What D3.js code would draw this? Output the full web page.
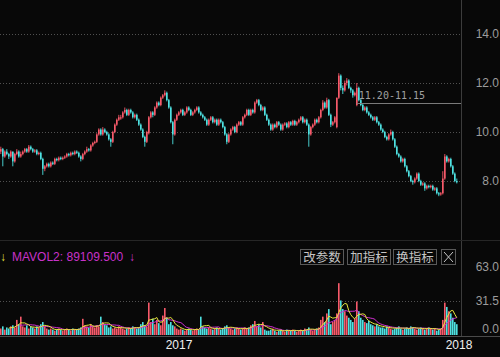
<!DOCTYPE html>
<html>
<head>
<meta charset="utf-8">
<script src="https://cdn.jsdelivr.net/npm/d3@7"></script>
<style>
    html, body { margin: 0; padding: 0; background: #080808; }
    svg { display: block; }
    .grid line { stroke: #505050; stroke-dasharray: 1,2; }
    .axis text { font-family: 'Liberation Sans', Arial, sans-serif; font-size: 12px; }
</style>
</head>
<body>
<div id="chart"></div>
<script>
/* global d3 */
// daily candles: [open, high, low, close]
const candles = [
    [9.20, 9.40, 9.10, 9.30], [9.30, 9.35, 8.60, 9.00], [9.00, 9.25, 8.95, 9.20], [9.20, 9.30, 9.05, 9.10], [9.10, 9.15, 8.90, 9.00],
    [9.00, 9.25, 8.95, 9.20], [9.20, 9.20, 8.60, 8.80], [8.80, 9.15, 8.75, 9.10], [9.10, 9.30, 9.05, 9.20], [9.20, 9.25, 8.95, 9.00],
    [9.00, 9.20, 8.95, 9.10], [9.10, 9.25, 9.05, 9.20], [9.20, 9.35, 9.15, 9.30], [9.30, 9.35, 9.15, 9.20], [9.20, 9.47, 9.15, 9.40],
    [9.40, 9.45, 9.25, 9.30], [9.30, 9.35, 9.15, 9.20], [9.20, 9.30, 9.15, 9.25], [9.25, 9.30, 9.05, 9.10], [9.10, 9.20, 9.05, 9.15],
    [9.15, 9.20, 8.85, 8.90], [8.90, 8.95, 8.25, 8.50], [8.50, 8.65, 8.40, 8.60], [8.60, 8.75, 8.55, 8.70], [8.70, 8.75, 8.55, 8.60],
    [8.60, 8.80, 8.55, 8.75], [8.75, 8.80, 8.65, 8.70], [8.70, 8.95, 8.65, 8.90], [8.90, 8.95, 8.80, 8.85], [8.85, 9.00, 8.80, 8.95],
    [8.95, 9.00, 8.85, 8.90], [8.90, 9.00, 8.85, 8.95], [8.95, 9.05, 8.90, 9.00], [9.00, 9.15, 8.95, 9.10], [9.10, 9.15, 9.00, 9.05],
    [9.05, 9.20, 9.00, 9.15], [9.15, 9.20, 9.05, 9.10], [9.10, 9.25, 9.05, 9.20], [9.20, 9.25, 9.10, 9.15], [9.15, 9.20, 8.95, 9.00],
    [9.00, 9.05, 8.80, 8.90], [8.90, 9.15, 8.85, 9.10], [9.10, 9.25, 9.05, 9.20], [9.20, 9.40, 9.15, 9.30], [9.30, 9.35, 9.20, 9.25],
    [9.25, 9.50, 9.20, 9.45], [9.45, 9.60, 9.40, 9.55], [9.55, 9.65, 9.50, 9.60], [9.60, 9.95, 9.55, 9.90], [9.90, 10.15, 9.85, 10.10],
    [10.10, 10.15, 9.85, 9.90], [9.90, 10.20, 9.85, 10.10], [10.10, 10.15, 9.95, 10.00], [10.00, 10.05, 9.85, 9.90], [9.90, 9.95, 9.65, 9.70],
    [9.70, 9.75, 9.40, 9.60], [9.60, 10.05, 9.55, 10.00], [10.00, 10.35, 9.95, 10.30], [10.30, 10.55, 10.25, 10.50], [10.50, 10.70, 10.45, 10.60],
    [10.55, 10.70, 10.50, 10.60], [10.60, 10.85, 10.55, 10.80], [10.80, 11.00, 10.75, 10.90], [10.90, 10.95, 10.65, 10.70], [10.70, 10.95, 10.65, 10.90],
    [10.90, 10.95, 10.75, 10.80], [10.80, 10.85, 10.55, 10.60], [10.60, 10.75, 10.55, 10.70], [10.70, 10.75, 10.45, 10.50], [10.50, 10.55, 10.25, 10.30],
    [10.30, 10.35, 10.05, 10.10], [10.10, 10.15, 9.75, 9.80], [9.80, 9.85, 9.40, 9.60], [9.60, 10.05, 9.55, 10.00], [9.95, 10.65, 9.90, 10.60],
    [10.60, 10.85, 10.55, 10.80], [10.80, 10.85, 10.60, 10.70], [10.70, 11.05, 10.65, 11.00], [11.00, 11.25, 10.95, 11.20], [11.20, 11.25, 11.05, 11.10],
    [11.10, 11.45, 11.05, 11.40], [11.40, 11.55, 11.35, 11.50], [11.50, 11.70, 11.45, 11.60], [11.60, 11.65, 11.25, 11.30], [11.30, 11.35, 10.95, 11.00],
    [11.00, 11.05, 10.35, 10.40], [10.40, 10.45, 9.50, 9.90], [9.90, 10.55, 9.85, 10.50], [10.50, 10.75, 10.45, 10.70], [10.70, 10.85, 10.65, 10.80],
    [10.80, 10.95, 10.75, 10.90], [10.90, 10.95, 10.65, 10.70], [10.70, 10.85, 10.65, 10.80], [10.80, 11.05, 10.75, 11.00], [11.00, 11.05, 10.85, 10.90],
    [10.90, 10.95, 10.65, 10.70], [10.70, 10.85, 10.65, 10.80], [10.80, 10.95, 10.75, 10.90], [10.90, 11.05, 10.85, 11.00], [11.00, 11.05, 10.75, 10.80],
    [10.80, 10.85, 10.65, 10.70], [10.70, 10.75, 10.55, 10.60], [10.60, 10.65, 10.45, 10.50], [10.50, 10.55, 10.25, 10.30], [10.30, 10.55, 10.25, 10.50],
    [10.50, 10.65, 10.45, 10.60], [10.60, 10.65, 10.35, 10.40], [10.40, 10.55, 10.35, 10.50], [10.50, 10.55, 10.25, 10.30], [10.30, 10.55, 10.25, 10.50],
    [10.50, 10.55, 10.35, 10.40], [10.40, 10.45, 10.15, 10.20], [10.20, 10.25, 9.85, 9.90], [9.90, 9.95, 9.50, 9.60], [9.60, 9.95, 9.55, 9.90],
    [9.90, 10.15, 9.85, 10.10], [10.10, 10.25, 10.05, 10.20], [10.20, 10.25, 9.95, 10.00], [10.00, 10.35, 9.95, 10.30], [10.30, 10.45, 10.25, 10.40],
    [10.40, 10.45, 10.25, 10.30], [10.30, 10.65, 10.25, 10.60], [10.60, 10.75, 10.55, 10.70], [10.70, 10.95, 10.65, 10.90], [10.90, 10.95, 10.65, 10.70],
    [10.70, 10.95, 10.65, 10.90], [10.90, 10.95, 10.75, 10.80], [10.80, 11.25, 10.75, 11.20], [11.20, 11.35, 11.15, 11.30], [11.30, 11.35, 11.05, 11.10],
    [11.10, 11.15, 10.85, 10.90], [10.90, 11.05, 10.85, 11.00], [11.00, 11.05, 10.65, 10.70], [10.70, 10.75, 10.45, 10.50], [10.50, 10.55, 10.25, 10.30],
    [10.30, 10.35, 10.05, 10.10], [10.10, 10.35, 10.05, 10.30], [10.30, 10.35, 10.15, 10.20], [10.20, 10.45, 10.15, 10.40], [10.40, 10.45, 10.25, 10.30],
    [10.30, 10.35, 10.05, 10.10], [10.10, 10.35, 10.05, 10.30], [10.30, 10.40, 10.25, 10.35], [10.35, 10.40, 10.15, 10.20], [10.20, 10.45, 10.15, 10.40],
    [10.40, 10.45, 10.25, 10.30], [10.30, 10.50, 10.25, 10.45], [10.45, 10.50, 10.25, 10.30], [10.30, 10.45, 10.25, 10.40], [10.40, 10.55, 10.35, 10.50],
    [10.50, 10.65, 10.45, 10.60], [10.60, 10.65, 10.35, 10.40], [10.40, 10.55, 10.35, 10.50], [10.50, 10.55, 10.25, 10.30], [10.30, 10.35, 9.40, 9.90],
    [9.90, 10.25, 9.85, 10.20], [10.20, 10.35, 10.15, 10.30], [10.30, 10.55, 10.25, 10.50], [10.50, 10.55, 10.35, 10.40], [10.40, 10.65, 10.35, 10.60],
    [10.60, 10.95, 10.55, 10.90], [10.90, 11.30, 10.85, 11.20], [11.20, 11.25, 10.95, 11.00], [11.00, 11.40, 10.95, 11.30], [11.30, 11.35, 10.65, 10.70],
    [10.70, 10.75, 10.20, 10.30], [10.30, 10.45, 10.25, 10.40], [10.40, 10.65, 10.35, 10.60], [10.20, 11.40, 10.15, 11.40], [11.40, 12.40, 11.35, 12.30],
    [12.30, 12.35, 11.70, 11.80], [11.80, 11.90, 11.55, 11.70], [11.70, 12.10, 11.65, 12.00], [12.00, 12.20, 11.90, 12.10], [12.10, 12.15, 11.75, 11.80],
    [11.80, 11.85, 11.60, 11.70], [11.70, 11.75, 11.40, 11.50], [11.50, 11.65, 11.45, 11.60], [11.10, 12.00, 11.05, 11.80], [11.80, 11.85, 11.25, 11.30],
    [11.30, 11.35, 11.05, 11.10], [11.10, 11.15, 10.85, 10.90], [10.90, 11.05, 10.85, 11.00], [11.00, 11.05, 10.75, 10.80], [10.80, 10.85, 10.65, 10.70],
    [10.70, 10.75, 10.55, 10.60], [10.60, 10.65, 10.45, 10.50], [10.50, 10.65, 10.45, 10.60], [10.60, 10.65, 10.35, 10.40], [10.40, 10.45, 10.25, 10.30],
    [10.30, 10.35, 10.05, 10.10], [10.10, 10.15, 9.95, 10.00], [10.00, 10.05, 9.75, 9.80], [9.80, 9.85, 9.65, 9.70], [9.70, 9.95, 9.65, 9.90],
    [9.90, 10.10, 9.85, 10.00], [10.00, 10.05, 9.65, 9.70], [9.70, 9.75, 9.35, 9.40], [9.40, 9.45, 9.05, 9.10], [9.10, 9.15, 8.95, 9.00],
    [9.00, 9.05, 8.75, 8.80], [8.80, 8.95, 8.75, 8.90], [8.90, 8.95, 8.55, 8.60], [8.60, 8.65, 8.35, 8.40], [8.40, 8.45, 8.15, 8.20],
    [8.20, 8.25, 7.95, 8.00], [8.00, 8.05, 7.85, 7.95], [7.95, 8.15, 7.90, 8.10], [8.10, 8.35, 8.05, 8.30], [8.30, 8.35, 7.95, 8.00],
    [8.00, 8.05, 7.80, 7.85], [7.85, 7.95, 7.80, 7.90], [7.90, 7.95, 7.60, 7.70], [7.70, 7.85, 7.65, 7.80], [7.80, 7.85, 7.70, 7.75],
    [7.75, 7.85, 7.70, 7.80], [7.80, 7.85, 7.60, 7.65], [7.65, 7.75, 7.60, 7.70], [7.70, 7.75, 7.45, 7.50], [7.50, 7.55, 7.38, 7.45],
    [7.45, 7.55, 7.40, 7.50], [7.50, 8.40, 7.45, 8.10], [8.10, 9.10, 8.05, 9.00], [9.00, 9.05, 8.75, 8.80], [8.80, 8.95, 8.75, 8.90],
    [8.90, 8.95, 8.55, 8.60], [8.60, 8.65, 8.25, 8.30], [8.30, 8.35, 7.95, 8.00], [8.00, 8.10, 7.90, 7.95]
];

const volumes = [
    6, 8, 5, 7, 6, 8, 9, 7, 14, 10, 17, 8, 7, 9, 6, 8, 7, 6, 8, 7,
    10, 12, 8, 6, 5, 6, 5, 4, 5, 6, 5, 4, 5, 6, 5, 4, 6, 5, 5, 6,
    7, 15, 9, 8, 7, 10, 8, 7, 9, 8, 17, 12, 10, 9, 7, 8, 6, 7, 6, 8,
    7, 6, 5, 6, 7, 6, 8, 7, 6, 7, 10, 12, 9, 8, 30, 12, 15, 10, 14, 11,
    9, 18, 25, 16, 10, 12, 9, 8, 6, 5, 6, 5, 4, 5, 6, 5, 4, 5, 6, 5,
    17, 8, 7, 6, 7, 6, 5, 6, 7, 6, 5, 6, 8, 9, 7, 6, 5, 6, 7, 6,
    5, 6, 7, 6, 7, 9, 10, 13, 8, 10, 7, 12, 5, 4, 4, 5, 6, 4, 3, 4,
    5, 4, 3, 5, 4, 4, 5, 4, 3, 4, 5, 4, 6, 5, 7, 5, 4, 5, 6, 7,
    14, 17, 12, 20, 24, 10, 12, 14, 20, 48, 32, 24, 22, 18, 16, 14, 12, 15, 31, 22,
    16, 14, 12, 11, 13, 10, 9, 8, 10, 8, 7, 7, 6, 8, 7, 6, 5, 6, 7, 8,
    6, 5, 6, 7, 6, 8, 7, 6, 5, 6, 7, 6, 5, 6, 7, 6, 5, 6, 4, 5,
    6, 14, 30, 26, 22, 20, 16, 12, 10
];

const slotCount = 230;
const priceTicks = [8, 10, 12, 14];
const volTicks = [0, 31.5, 63];
const yearTicks = [89, 229];
const yearLabels = ['2017', '2018'];
const buttonLabels = ['改参数', '加指标', '换指标'];
const markIndex = 178;
const markPrice = 11.2;
const markText = '11.20-11.15';
const legendText = 'MAVOL2: 89109.500';

const W = 500, H = 357;
const plotRight = 461;
const upColor = '#f75a6a', downColor = '#4fe2e2';

const svg = d3.select('#chart').append('svg')
    .attr('width', W)
    .attr('height', H)
    .style('background', '#080808');

const x = d3.scaleBand().domain(d3.range(slotCount)).range([0, 2 * slotCount]);
const yPrice = d3.scaleLinear().domain([8, 14]).range([181, 34]);
const yVol = d3.scaleLinear().domain([0, 63]).range([335, 267]);

const barW = 1.6;
const cx = i => x(i) + barW / 2;
const isUp = d => d[3] >= d[0];

// frame lines
svg.append('line').attr('x1', plotRight + 0.5).attr('x2', plotRight + 0.5)
    .attr('y1', 0).attr('y2', 336).attr('stroke', '#3c3c3c');
svg.append('line').attr('x1', 0).attr('x2', W)
    .attr('y1', 240.5).attr('y2', 240.5).attr('stroke', '#262626');
svg.append('line').attr('x1', 0).attr('x2', W)
    .attr('y1', 336.5).attr('y2', 336.5).attr('stroke', '#4a4a4a');

// grid lines
svg.append('g').attr('class', 'grid')
    .call(d3.axisRight(yPrice).tickValues(priceTicks).tickSize(plotRight).tickFormat(''))
    .call(g => g.select('.domain').remove());
svg.append('g').attr('class', 'grid')
    .call(d3.axisRight(yVol).tickValues([31.5]).tickSize(plotRight).tickFormat(''))
    .call(g => g.select('.domain').remove());

// candles
const cgrp = svg.append('g').attr('class', 'candles');
cgrp.selectAll('line')
    .data(candles)
    .join('line')
    .attr('x1', (d, i) => cx(i)).attr('x2', (d, i) => cx(i))
    .attr('y1', d => yPrice(d[1])).attr('y2', d => yPrice(d[2]))
    .attr('stroke', d => isUp(d) ? upColor : downColor)
    .attr('stroke-width', 0.9);
cgrp.selectAll('rect')
    .data(candles)
    .join('rect')
    .attr('x', (d, i) => x(i))
    .attr('width', barW)
    .attr('y', d => yPrice(Math.max(d[0], d[3])))
    .attr('height', d => Math.max(1, Math.abs(yPrice(d[0]) - yPrice(d[3]))))
    .attr('fill', d => isUp(d) ? upColor : downColor);

// price marker
svg.append('line')
    .attr('x1', cx(markIndex)).attr('x2', plotRight)
    .attr('y1', Math.round(yPrice(markPrice)) + 0.5).attr('y2', Math.round(yPrice(markPrice)) + 0.5)
    .attr('stroke', '#7a7a7a');
svg.append('text')
    .attr('x', cx(markIndex) + 2)
    .attr('y', yPrice(markPrice) - 3.5)
    .style('font-family', "'DejaVu Sans Mono', monospace")
    .style('font-size', '10px')
    .style('fill', '#a0a0a0')
    .text(markText);

// volume bars
svg.append('g').selectAll('rect')
    .data(volumes)
    .join('rect')
    .attr('x', (d, i) => x(i))
    .attr('width', barW)
    .attr('y', d => yVol(d))
    .attr('height', d => yVol(0) - yVol(d))
    .attr('fill', (d, i) => isUp(candles[i]) ? upColor : downColor);

// volume averages
const movingAvg = n => volumes.map((v, i) => i < n - 1 ? null : d3.mean(volumes.slice(i - n + 1, i + 1)));
const maLine = d3.line()
    .defined(d => d !== null)
    .x((d, i) => cx(i))
    .y(d => yVol(d));
svg.append('path').datum(movingAvg(10))
    .attr('d', maLine).attr('fill', 'none').attr('stroke', '#d030d0').attr('stroke-width', 1);
svg.append('path').datum(movingAvg(5))
    .attr('d', maLine).attr('fill', 'none').attr('stroke', '#e8e83c').attr('stroke-width', 1);

// right axes
svg.append('g').attr('class', 'axis')
    .attr('transform', 'translate(499,0)')
    .call(d3.axisLeft(yPrice).tickValues(priceTicks).tickFormat(d3.format('.1f')).tickSize(0).tickPadding(0))
    .call(g => g.select('.domain').remove())
    .call(g => g.selectAll('text').style('fill', '#9c9c9c'));
svg.append('g').attr('class', 'axis')
    .attr('transform', 'translate(499,0)')
    .call(d3.axisLeft(yVol).tickValues(volTicks).tickFormat(d3.format('.1f')).tickSize(0).tickPadding(0))
    .call(g => g.select('.domain').remove())
    .call(g => g.selectAll('text').style('fill', '#9c9c9c').attr('dy', d => d === 0 ? '-0.25em' : '0.32em'));

// year axis
svg.append('g').attr('class', 'axis')
    .attr('transform', 'translate(0,336)')
    .call(d3.axisBottom(x).tickValues(yearTicks).tickFormat((d, i) => yearLabels[i]).tickSize(0).tickPadding(4))
    .call(g => g.select('.domain').remove())
    .call(g => g.selectAll('text').style('fill', '#f0f0f0'));

// legend row
const legend = svg.append('g').style('font-family', "'Liberation Sans', Arial, sans-serif").style('font-size', '12px');
legend.append('text').attr('x', 0).attr('y', 261).style('fill', '#e0e040').text('↓');
legend.append('text').attr('x', 12).attr('y', 261).style('fill', '#c832c8').text(legendText);
legend.append('text').attr('x', 129).attr('y', 261).style('fill', '#c832c8').text('↓');

// indicator buttons
const btnX = [300, 347, 393];
const btns = svg.append('g').style('font-family', "'Noto Sans CJK SC', sans-serif").style('font-size', '12.5px');
buttonLabels.forEach((label, i) => {
    btns.append('rect')
        .attr('x', btnX[i] + 0.5).attr('y', 249.5)
        .attr('width', 43).attr('height', 15)
        .attr('fill', 'none').attr('stroke', '#5a5a5a');
    btns.append('text')
        .attr('x', btnX[i] + 22).attr('y', 257)
        .attr('dy', '0.36em')
        .attr('text-anchor', 'middle')
        .style('fill', '#c4c4c4')
        .text(label);
});
btns.append('rect')
    .attr('x', 441.5).attr('y', 249.5).attr('width', 14).attr('height', 15)
    .attr('fill', 'none').attr('stroke', '#5a5a5a');
btns.append('path')
    .attr('d', 'M444,252L453,262M453,252L444,262')
    .attr('stroke', '#c4c4c4').attr('fill', 'none');
</script>
</body>
</html>
